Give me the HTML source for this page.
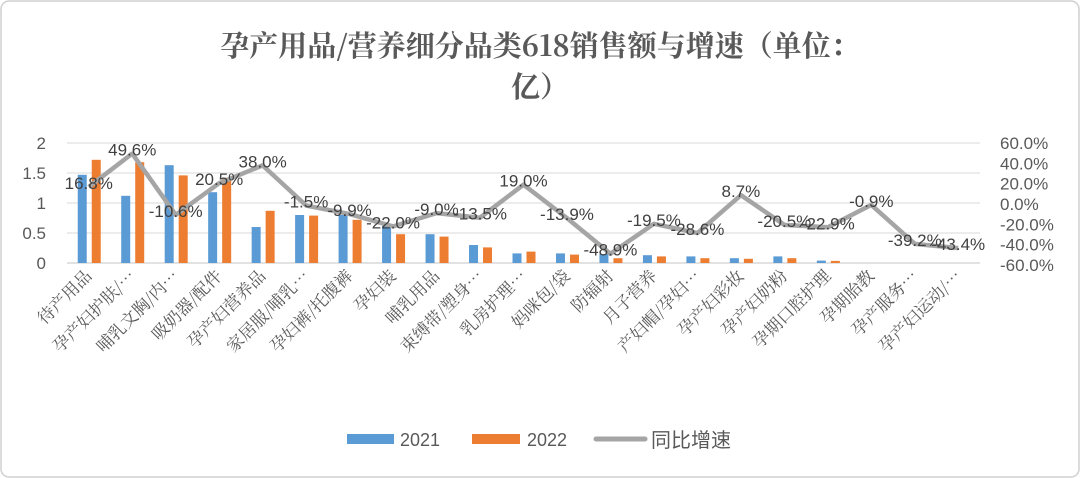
<!DOCTYPE html>
<html><head><meta charset="utf-8"><style>
body{margin:0;background:#fff;}
svg{display:block;font-family:"Liberation Sans","Noto Sans CJK SC",sans-serif;}
</style></head><body>
<svg id="chart" width="1080" height="478" viewBox="0 0 1080 478">
<rect x="1" y="1" width="1078" height="476" rx="8" fill="#fff" stroke="#d0d0d0" stroke-width="1.5"/>
<text x="540" y="56" text-anchor="middle" font-size="29" font-weight="bold" fill="#595959" font-family="'Noto Serif CJK SC','Liberation Serif',serif">孕产用品/营养细分品类618销售额与增速（单位：</text>
<text x="540" y="97" text-anchor="middle" font-size="29" font-weight="bold" fill="#595959" font-family="'Noto Serif CJK SC','Liberation Serif',serif">亿）</text>
<g id="grid"></g><g id="bars"></g><g id="line"></g><g id="labels"></g><g id="axes"></g>
<g>
<rect x="347" y="434" width="47" height="10" fill="#5b9bd5"/>
<text x="400" y="446" font-size="18" fill="#595959">2021</text>
<rect x="472" y="434" width="48" height="10" fill="#ed7d31"/>
<text x="527" y="446" font-size="18" fill="#595959">2022</text>
<line x1="596" y1="439" x2="645" y2="439" stroke="#a5a5a5" stroke-width="5" stroke-linecap="round"/>
<text x="651" y="447" font-size="20" fill="#595959">同比增速</text>
</g>
</svg>
<script>
const categories=["待产用品","孕产妇护肤/…","哺乳文胸/内…","吸奶器/配件","孕产妇营养品","家居服/哺乳…","孕妇裤/托腹裤","孕妇装","哺乳用品","束缚带/塑身…","乳房护理…","妈咪包/袋","防辐射","月子营养","产妇帽/孕妇…","孕产妇彩妆","孕产妇奶粉","孕期口腔护理","孕期胎教","孕产服务…","孕产妇运动/…"];
const sales2021=[1.47,1.12,1.63,1.18,0.60,0.80,0.80,0.62,0.48,0.30,0.16,0.16,0.15,0.13,0.11,0.08,0.11,0.04,0,0,0];
const sales2022=[1.72,1.68,1.46,1.42,0.87,0.79,0.72,0.48,0.44,0.26,0.19,0.14,0.08,0.11,0.08,0.07,0.08,0.035,0,0,0];
const growth=[16.8,49.6,-10.6,20.5,38.0,-1.5,-9.9,-22.0,-9.0,-13.5,19.0,-13.9,-48.9,-19.5,-28.6,8.7,-20.5,-22.9,-0.9,-39.2,-43.4];
const leftTicks=[0,0.5,1,1.5,2];
const leftTickLabels=["0","0.5","1","1.5","2"];
const rightTicks=[-60,-40,-20,0,20,40,60];
const NS="http://www.w3.org/2000/svg";
const X0=67,X1=980,Y0=263,YT=143;
const cw=(X1-X0)/categories.length;
function xc(i){return X0+cw*(i+0.5);}
function yL(v){return Y0-(v/2)*(Y0-YT);}
function yR(g){return 204-(g/60)*61;}
function mk(tag,attrs,parent){const e=document.createElementNS(NS,tag);for(const k in attrs)e.setAttribute(k,attrs[k]);document.getElementById(parent).appendChild(e);return e;}
leftTicks.forEach((t,i)=>{
  const l=mk('line',{x1:X0,x2:X1,y1:yL(t),y2:yL(t),stroke:t===0?'#d0d0d0':'#e0e0e0','stroke-width':1.3},'grid');
  
  
  const tx=mk('text',{x:46,y:yL(t)+6,'text-anchor':'end','font-size':17,fill:'#595959'},'axes');
  tx.textContent=leftTickLabels[i];
  
  
});
rightTicks.forEach(t=>{
  const tx=mk('text',{x:1000,y:yR(t)+6,'font-size':17,fill:'#595959'},'axes');
  tx.textContent=t.toFixed(1)+'%';
  
  
});
categories.forEach((c,i)=>{
  const cx=xc(i);
  if(sales2021[i]>0){const b=mk('rect',{x:cx-11,y:yL(sales2021[i]),width:9,height:Y0-yL(sales2021[i]),fill:'#5b9bd5'},'bars');
  
  }
  if(sales2022[i]>0){const b=mk('rect',{x:cx+3,y:yL(sales2022[i]),width:9,height:Y0-yL(sales2022[i]),fill:'#ed7d31'},'bars');
  
  }
  const t=mk('text',{x:0,y:0,'text-anchor':'end','font-size':17,fill:'#595959',transform:`translate(${cx+4},${Y0+14}) rotate(-45)`,'font-family':"'Noto Serif CJK SC','Noto Sans CJK SC',serif"},'axes');
  t.textContent=c;
  
  
});
const pts=growth.map((g,i)=>xc(i)+','+yR(g)).join(' ');
const pl=mk('polyline',{points:pts,fill:'none',stroke:'#a5a5a5','stroke-width':4.5,'stroke-linejoin':'round'},'line');


growth.forEach((g,i)=>{
  const t=mk('text',{x:xc(i),y:yR(g)+2,'text-anchor':'middle','font-size':17,fill:'#404040'},'labels');
  t.textContent=g.toFixed(1)+'%';
  
  
});
</script>
</body></html>
